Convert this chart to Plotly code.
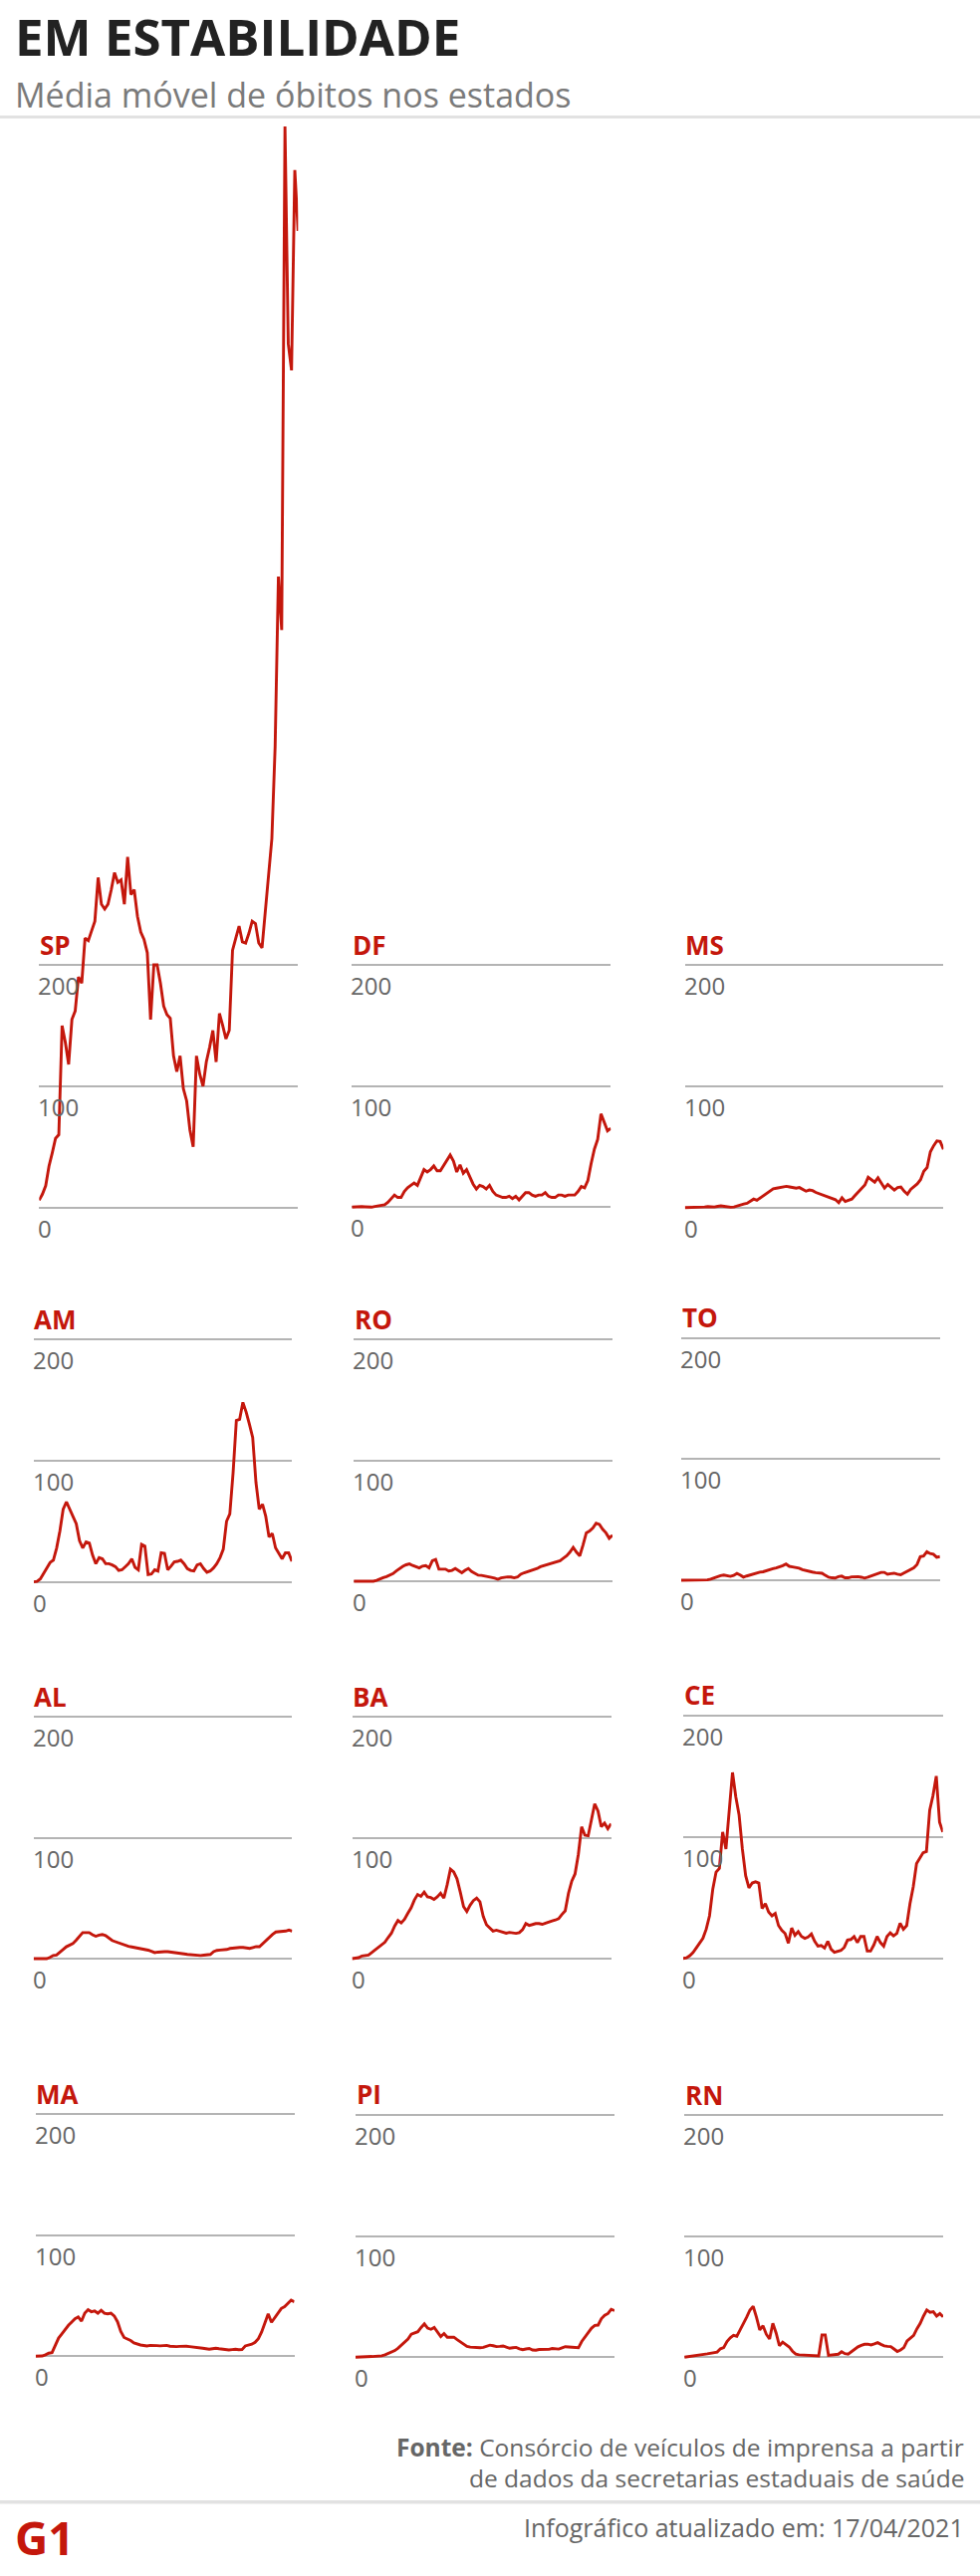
import plotly.graph_objects as go
import pandas as pd

W, H = 984, 2587
RED = "#c4170c"
GRID = "#b4b4b4"
TICK_COLOR = "#666666"

# ---------------- data (7-day moving average of deaths, sampled every 5 days) ----------------
dates = pd.date_range("2020-03-18", "2021-04-17", freq="5D")

states = ["SP", "DF", "MS", "AM", "RO", "TO", "AL", "BA", "CE", "MA", "PI", "RN"]

sp = [6, 11, 18, 34, 45, 57, 60, 150, 136, 118, 155, 162, 190, 185, 222, 220, 228, 236, 272, 250,
      246, 250, 262, 276, 268, 270, 250, 289, 258, 262, 240, 227, 221, 210, 155, 200, 200, 185, 166, 159,
      156, 125, 112, 125, 98, 88, 64, 50, 125, 110, 100, 120, 132, 146, 120, 160, 150, 139, 146, 212,
      222, 232, 219, 218, 226, 236, 234, 218, 214, 242, 270, 304, 380, 520, 476, 891, 712, 690, 855, 805]
df_ = [0, 0.3, 0.5, 0.5, 0.3, 0, 0, 0.5, 1, 1.5, 2, 4, 7, 10, 8, 8, 13, 16, 18, 20,
       18, 24, 31, 29, 31, 34, 30, 30, 34, 39, 43, 38, 29, 35, 28, 31, 25, 19, 15, 18,
       17, 15, 18, 13, 10, 9, 8, 8, 9, 7, 9, 6, 9, 12, 12, 10, 9, 10, 10, 12,
       9, 8, 8, 10, 10, 9, 10, 10, 10, 13, 17, 16, 22, 36, 48, 56, 77, 70, 63, 65]
ms = [0, 0, 0, 0, 0, 0.3, 0.5, 0.8, 0.5, 0.5, 1, 1.4, 1, 0.5, 0.3, 0.5, 1.5, 2, 3, 3.5,
      5, 7, 6, 8, 10, 12, 14, 15.5, 16, 16.5, 17, 17.5, 17, 16.5, 16, 16.5, 15, 13.5, 14.5, 14,
      12.5, 11.5, 10, 9, 8.5, 7.5, 6.5, 4, 8, 5, 6, 7, 10, 13, 16, 18.6, 25, 23, 21, 24.5,
      20, 16, 19, 16.5, 14.5, 16.5, 17, 13.5, 11, 15, 17, 19.5, 23, 30, 33, 46, 51, 55, 54.5, 48]
am = [0, 0.5, 2.5, 7, 11, 16, 18, 28, 42, 60, 66, 60, 54, 48, 34, 28, 33, 32, 22, 15,
      20, 19, 15, 15, 14, 12.6, 9.5, 10, 12.5, 15, 19, 12, 10, 31, 29.6, 6, 6.5, 10, 9, 24,
      23.6, 10, 13, 16.5, 17, 18, 15, 11, 9.5, 9, 14, 15, 11, 8, 9, 11.5, 15, 20, 27, 50,
      56, 90, 133, 134, 148, 140, 130, 119, 82, 60, 64, 54, 37, 40, 28, 23, 19, 24, 24, 17]
ro = [0, 0, 0, 0, 0, 0, 0, 0.7, 2, 3, 3.8, 5, 6.3, 8.5, 10.5, 12.3, 13.6, 14.3, 13, 12,
      11, 12.5, 13, 11, 17, 18, 10, 10, 10, 8.5, 9, 10.5, 8.5, 7, 9, 10.5, 8, 6.5, 5, 4.8,
      4.4, 3.8, 3.2, 2.5, 1.6, 2.8, 3.3, 3.6, 3.5, 2.8, 3.5, 5.8, 7, 7.8, 8.5, 9.3, 10.5, 12, 12.8, 13.5,
      14, 14.8, 16, 17, 19, 21, 24, 28, 24, 21, 30, 40, 41.5, 44, 48, 47, 43, 40, 35.5, 38]
to = [0, 0, 0, 0, 0, 0, 0, 0, 0.3, 1, 2, 3.2, 3.8, 4.3, 4, 3.2, 4, 5.6, 4.3, 2.6,
      3.5, 4.4, 5.3, 6.3, 6.7, 7, 8, 8.7, 9.5, 10.2, 10.8, 12, 13.4, 11.5, 11, 10.8, 10, 8.8, 8, 7,
      6.8, 6.3, 6, 5.8, 4, 2.5, 2, 1.8, 3, 3.4, 2, 2, 2.8, 3, 3, 2.5, 1.8, 2.5, 3.4, 4.6,
      5.8, 6.5, 6.5, 5, 5.4, 5.8, 5, 4.5, 6, 7.3, 9, 10.3, 13, 19.5, 20, 23.5, 22, 21.5, 19, 19.5]
al = [0, 0, 0, 0, 0, 1, 2.6, 3, 5, 7.5, 9.8, 11.4, 12.4, 15.3, 18, 21.5, 21.5, 21.5, 19.8, 18.5,
      19.5, 20, 19, 16.8, 15, 14, 13, 12, 11, 10.2, 9.7, 9.2, 8.5, 7.9, 7.5, 7, 6, 5, 5.4, 5.8,
      5.8, 5.8, 5.3, 4.9, 4.6, 4.4, 3.9, 3.5, 3.2, 2.9, 2.6, 2.6, 2.9, 3, 3.5, 5.8, 6.8, 7.1, 7.1, 7.6,
      8.4, 8.8, 9, 9.2, 9.3, 9, 8.5, 9.2, 9.9, 9.9, 12.5, 15.5, 17.5, 20, 22, 22.3, 22.3, 22.8, 23.6, 22.8]
ba = [0, 0.3, 0.8, 2.2, 2.7, 3, 5, 7, 9.2, 11.4, 13.5, 17.5, 21, 27, 31.5, 29.5, 32.5, 37.5, 42, 48.5,
      53, 51.5, 55, 51, 50.5, 49, 51, 54, 50, 61, 74, 71.7, 66, 55, 43, 39, 44.2, 48, 50, 47,
      35, 28, 25.5, 22.8, 23.5, 22.5, 21.5, 21, 21.7, 21, 20.9, 21.5, 24, 29, 27.5, 28.2, 29, 29, 28.4, 29.4,
      30.6, 31.2, 31.9, 33, 36.5, 39.5, 54, 64, 70, 86, 109, 102, 101.5, 115, 128, 122, 109, 112, 107.4, 111.5]
ce = [0, 0.4, 2.2, 4.8, 8.6, 12.5, 16.5, 24, 35, 57, 71, 74, 104, 90, 120, 153, 133, 118, 90, 68,
      58, 62, 63, 62, 41, 45, 38, 35, 37, 27, 23, 20.5, 12.5, 25, 19, 22, 18, 16.5, 17.5, 20,
      14, 10, 10.5, 8.5, 14, 7.5, 5, 5.5, 6.5, 9, 15, 15.5, 18, 13, 18, 18, 6, 6, 11, 18,
      13, 10, 18, 21, 18.5, 20.5, 29, 24, 27, 45, 59, 78, 82, 87, 88, 122, 134, 150, 112, 104]
ma = [0, 0, 0.2, 1.2, 2.5, 3, 8.5, 15, 18.5, 22.5, 25.5, 28.3, 31, 32.5, 29, 35.6, 38.5, 36.8, 37.5, 35.6,
      38, 35.5, 35, 35.5, 33.3, 28.5, 20.5, 15.5, 14.3, 13, 11, 10, 9.3, 8.9, 8.5, 9, 9.2, 8.8, 8.6, 9,
      9, 8.3, 8, 8, 8.2, 8.4, 8.3, 8, 7.8, 7.5, 7, 6.6, 6.2, 5.8, 6.2, 6.6, 6.2, 5.8, 5.5, 5.2,
      5.5, 5.8, 5.4, 5.5, 8.5, 9, 10, 11.5, 14.5, 20, 28, 35, 28, 32, 35.3, 39.5, 41, 43.8, 46.3, 45]
pi = [0, 0, 0.2, 0.3, 0.5, 0.6, 0.8, 0.9, 1.2, 2, 3, 4, 5.5, 7.5, 9.8, 12, 15, 19, 20, 21,
      24.5, 27.5, 24, 23, 24.5, 21, 17, 19.5, 16.5, 16.5, 16.5, 14.5, 12.5, 11, 9, 8.4, 8, 7.6, 7.8, 8.2,
      9, 10, 9.5, 8.8, 9, 9.3, 8.3, 7.4, 7.8, 8.1, 7, 6.2, 6.8, 7.2, 6, 5.8, 6.4, 6.4, 6.1, 6.5,
      7.2, 7.1, 6.7, 7.7, 8.7, 8.5, 8.2, 7.8, 7.8, 13, 16.8, 20, 24, 26.2, 26.5, 31.8, 34.5, 36, 39.5, 38.4]
rn = [0, 0.3, 0.7, 1, 1.6, 2, 2.4, 2.8, 3.1, 3.5, 4.3, 7, 8, 13, 16, 18, 17.3, 22.5, 27.5, 33,
      38.9, 42, 33, 22.5, 26, 19, 15, 28, 20, 9.5, 12.5, 10.3, 8.5, 5, 2.6, 2, 1.9, 1.9, 1.6, 1.1,
      1.1, 1.1, 18.4, 18.4, 1.5, 1.9, 1.9, 2.5, 4.5, 3, 2.5, 4.5, 7, 8.6, 9.8, 10.7, 10.8, 10.2, 11, 12,
      10.6, 9.4, 9, 8.8, 6.8, 4.8, 6, 8, 13.5, 15.6, 18, 23.5, 28, 34, 39, 37, 37.5, 34, 36, 33.4]

series = {"SP": sp, "DF": df_, "MS": ms, "AM": am, "RO": ro, "TO": to,
          "AL": al, "BA": ba, "CE": ce, "MA": ma, "PI": pi, "RN": rn}

tick_values = [0, 100, 200]
tick_labels = ["0", "100", "200"]

# ---------------- layout: panel boxes in pixels (x left, x right, y of 0, y of 200) ----------------
PANELS = {
    "SP": (39.3, 299.3, 1212.7, 969.0),
    "DF": (353.3, 613.3, 1212.3, 969.0),
    "MS": (687.7, 947.3, 1212.7, 969.3),
    "AM": (33.9, 293.1, 1588.7, 1345.0),
    "RO": (355.2, 615.0, 1588.0, 1345.0),
    "TO": (684.0, 943.8, 1587.0, 1343.7),
    "AL": (33.7, 293.4, 1967.0, 1724.0),
    "BA": (353.5, 613.6, 1967.0, 1724.0),
    "CE": (686.0, 946.7, 1966.7, 1722.7),
    "MA": (35.8, 295.6, 2366.3, 2123.3),
    "PI": (357.0, 617.0, 2367.3, 2123.7),
    "RN": (687.2, 947.0, 2367.3, 2124.0),
}
YTOP = {"SP": 905}


def fx(px):
    return px / W


def fy(py):
    return 1 - py / H


fig = go.Figure()
annotations = []
layout_axes = {}

for i, st in enumerate(states):
    n = "" if i == 0 else str(i + 1)
    x0, x1, z, y200 = PANELS[st]
    ppu = (z - y200) / 200.0
    ylo = -6
    yhi = YTOP.get(st, 206)
    bottom_px = z - ylo * ppu
    top_px = z - yhi * ppu
    layout_axes["xaxis" + n] = dict(domain=[fx(x0), fx(x1)], range=[dates[0], dates[-1]],
                                    visible=False, anchor="y" + n, fixedrange=True)
    layout_axes["yaxis" + n] = dict(domain=[fy(bottom_px), fy(top_px)], range=[ylo, yhi],
                                    tickvals=tick_values, showticklabels=False, ticks="",
                                    showgrid=True, gridcolor=GRID, gridwidth=1.6,
                                    zeroline=False, showline=False, anchor="x" + n, fixedrange=True)
    fig.add_trace(go.Scatter(x=dates, y=series[st], mode="lines",
                             line=dict(color=RED, width=2.9),
                             xaxis="x" + n, yaxis="y" + n,
                             hoverinfo="skip", showlegend=False))
    # state label
    annotations.append(dict(text="<b>%s</b>" % st, x=fx(x0 - 1.5), y=fy(y200 - 20.5),
                            xref="paper", yref="paper", xanchor="left", yanchor="middle",
                            showarrow=False, font=dict(family="Open Sans", size=26, color=RED)))
    # tick labels below gridlines
    for v, lab in zip(tick_values, tick_labels):
        gy = z - v * ppu
        annotations.append(dict(text=lab, x=fx(x0 - 3), y=fy(gy + 20.5),
                                xref="paper", yref="paper", xanchor="left", yanchor="middle",
                                showarrow=False,
                                font=dict(family="Open Sans", size=24, color=TICK_COLOR)))

# header
annotations.append(dict(text="<b>EM ESTABILIDADE</b>", x=fx(13), y=fy(36.5), xref="paper", yref="paper",
                        xanchor="left", yanchor="middle", showarrow=False,
                        font=dict(family="Open Sans", size=51, color="#222222")))
annotations.append(dict(text="Média móvel de óbitos nos estados", x=fx(13), y=fy(95),
                        xref="paper", yref="paper", xanchor="left", yanchor="middle", showarrow=False,
                        font=dict(family="Open Sans", size=34, color="#7a7a7a")))
# footer
annotations.append(dict(text="<b>Fonte:</b> Consórcio de veículos de imprensa a partir", x=fx(970),
                        y=fy(2457.5), xref="paper", yref="paper", xanchor="right", yanchor="middle",
                        showarrow=False, font=dict(family="Open Sans", size=24.5, color="#666666")))
annotations.append(dict(text="de dados da secretarias estaduais de saúde", x=fx(970),
                        y=fy(2488), xref="paper", yref="paper", xanchor="right", yanchor="middle",
                        showarrow=False, font=dict(family="Open Sans", size=24.5, color="#666666")))
annotations.append(dict(text="Infográfico atualizado em: 17/04/2021", x=fx(970), y=fy(2538),
                        xref="paper", yref="paper", xanchor="right", yanchor="middle",
                        showarrow=False, font=dict(family="Open Sans", size=25, color="#666666")))
annotations.append(dict(text="<b>G1</b>", x=fx(13), y=fy(2548), xref="paper", yref="paper",
                        xanchor="left", yanchor="middle", showarrow=False,
                        font=dict(family="Open Sans", size=46, color=RED)))

shapes = [
    dict(type="line", xref="paper", yref="paper", x0=0, x1=1, y0=fy(117.5), y1=fy(117.5),
         line=dict(color="#e2e2e2", width=3)),
    dict(type="line", xref="paper", yref="paper", x0=0, x1=1, y0=fy(2512.8), y1=fy(2512.8),
         line=dict(color="#e2e2e2", width=3.5)),
]

fig.update_layout(width=W, height=H, margin=dict(l=0, r=0, t=0, b=0),
                  paper_bgcolor="white", plot_bgcolor="white",
                  annotations=annotations, shapes=shapes, showlegend=False,
                  **layout_axes)

fig.write_html("out.html", config={"displayModeBar": False},
               post_script="document.body.style.margin='0px';document.body.style.overflow='hidden';")
